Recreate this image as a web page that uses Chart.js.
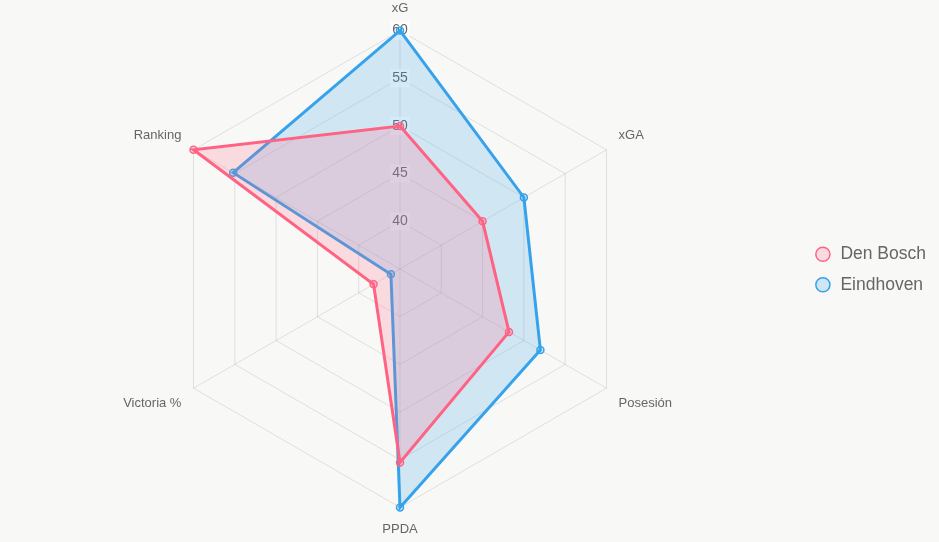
<!DOCTYPE html>
<html>
<head>
<meta charset="utf-8">
<script src="https://cdn.jsdelivr.net/npm/chart.js"></script>
<style>
html,body{margin:0;padding:0;background:#f8f8f6;}
#wrap{width:939px;height:542px;}
</style>
</head>
<body>
<div id="wrap"><canvas id="c" width="939" height="542"></canvas></div>
<script>
const categories = ["xG", "xGA", "Posesión", "PPDA", "Victoria %", "Ranking"];
const denBosch = [50, 45, 48.2, 55.3, 38.2, 60];
const eindhoven = [60, 50, 52, 60, 36.1, 55.2];
const seriesNames = ["Den Bosch", "Eindhoven"];
const scaleMin = 35, scaleMax = 60, tickStep = 5;

new Chart(document.getElementById('c'), {
  type: 'radar',
  data: {
    labels: categories,
    datasets: [
      {label: seriesNames[0], data: denBosch, borderColor: 'rgb(255,99,132)', backgroundColor: 'rgba(255,99,132,0.2)',
       pointBackgroundColor: 'rgba(255,99,132,0.2)', pointBorderColor: 'rgb(255,99,132)', pointBorderWidth: 1.5, borderWidth: 3, pointRadius: 3.5},
      {label: seriesNames[1], data: eindhoven, borderColor: 'rgb(54,162,235)', backgroundColor: 'rgba(54,162,235,0.2)',
       pointBackgroundColor: 'rgba(54,162,235,0.2)', pointBorderColor: 'rgb(54,162,235)', pointBorderWidth: 1.5, borderWidth: 3, pointRadius: 3.5}
    ]
  },
  options: {
    responsive: false,
    animation: false,
    layout: {padding: {right: 3, top: 1, bottom: 4}},
    plugins: {
      legend: {
        position: 'right',
        labels: {usePointStyle: true, pointStyle: 'circle', boxWidth: 18, boxHeight: 10, padding: 13, font: {size: 17.5}, color: '#666'}
      },
      tooltip: {enabled: false}
    },
    scales: {
      r: {
        min: scaleMin, max: scaleMax,
        ticks: {stepSize: tickStep, font: {size: 14}, color: '#666'},
        pointLabels: {font: {size: 13}, color: '#666'},
        grid: {color: 'rgba(0,0,0,0.1)'},
        angleLines: {color: 'rgba(0,0,0,0.1)'}
      }
    }
  }
});
</script>
</body>
</html>
